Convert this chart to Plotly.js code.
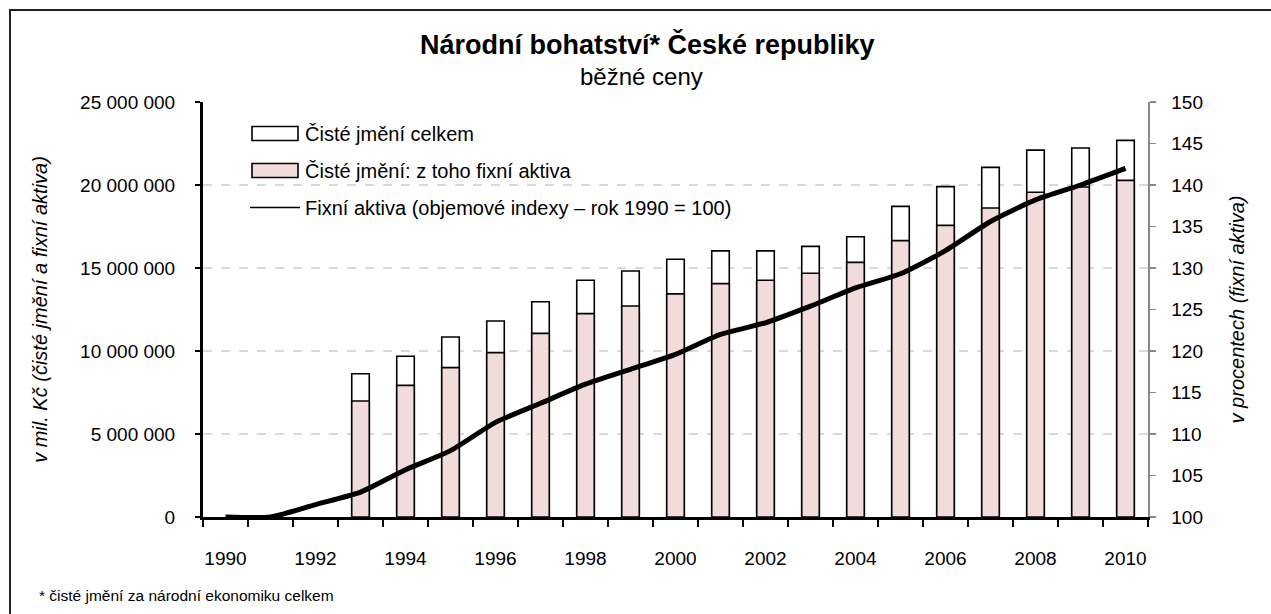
<!DOCTYPE html>
<html>
<head>
<meta charset="utf-8">
<script src="https://cdn.plot.ly/plotly-3.0.1.min.js"></script>
<style>html,body{margin:0;padding:0;background:#fff;}#chart{width:1271px;height:614px;}</style>
</head>
<body>
<div id="chart"></div>
<script>
// ---- data ----
const years = [1990,1991,1992,1993,1994,1995,1996,1997,1998,1999,2000,2001,2002,2003,2004,2005,2006,2007,2008,2009,2010];
const netWorthTotal = [null,null,null,8630000,9680000,10840000,11810000,12970000,14260000,14820000,15530000,16030000,16030000,16300000,16880000,18710000,19900000,21060000,22100000,22230000,22690000];
const netWorthFixed = [null,null,null,6990000,7930000,9000000,9900000,11060000,12250000,12710000,13440000,14060000,14260000,14680000,15340000,16650000,17570000,18610000,19560000,19880000,20280000];
const fixedIndex = [100,100,101.5,103.0,105.7,108.0,111.4,113.7,116.0,117.8,119.6,122.0,123.4,125.4,127.6,129.3,132.1,135.6,138.2,140.0,142.0];
const xTickVals = [1990,1992,1994,1996,1998,2000,2002,2004,2006,2008,2010];
const seriesNames = ['Čisté jmění celkem','Čisté jmění: z toho fixní aktiva','Fixní aktiva (objemové indexy – rok 1990 = 100)'];
const titleText = '<b>Národní bohatství* České republiky</b>';
const subtitleText = 'běžné ceny';
const leftTitle = 'v mil. Kč (čisté jmění a fixní aktiva)';
const rightTitle = 'v procentech (fixní aktiva)';
const footnote = '* čisté jmění za národní ekonomiku celkem';

// ---- layout geometry ----
const W = 1271, H = 614;
const L = 203, R = 1148, T = 102, B = 517;
const px = x => (x - L) / (R - L);
const py = y => (B - y) / (B - T);

const FONT = 'Liberation Sans, Arial, sans-serif';

const traces = [
  {type:'bar', x: years, y: netWorthTotal, name: seriesNames[0], legendgroup:'a',
   width: 0.39, marker:{color:'#ffffff', line:{color:'#000000', width:1.6}}, hoverinfo:'x+y'},
  {type:'bar', x: years, y: netWorthFixed, name: seriesNames[1], legendgroup:'b',
   width: 0.39, marker:{color:'#f2dcdb', line:{color:'#000000', width:1.6}}, hoverinfo:'x+y'},
  {type:'scatter', mode:'lines', x: years, y: fixedIndex, name: seriesNames[2], legendgroup:'c',
   yaxis:'y2', line:{color:'#000000', width:5, shape:'spline', smoothing:0.6}}
];

const layout = {
  width: W, height: H,
  margin: {l: L, r: W - R, t: T, b: H - B},
  paper_bgcolor: '#ffffff', plot_bgcolor: '#ffffff',
  font: {family: FONT, size: 19, color: '#000000'},
  separators: ', ',
  barmode: 'overlay',
  showlegend: true,
  legend: {x: px(245), y: py(114), xanchor: 'left', yanchor: 'top',
           bgcolor: 'rgba(0,0,0,0)', borderwidth: 0, tracegroupgap: 8,
           font: {family: FONT, size: 20, color:'#000'}, itemwidth: 50, traceorder: 'grouped'},
  xaxis: {type: 'linear', range: [1989.5, 2010.5], tickmode: 'array', tickvals: xTickVals,
          ticks: 'outside', ticklen: 0, tickcolor: '#000', ticklabelstandoff: 22,
          showline: true, linecolor: '#000000', linewidth: 3, showgrid: false, zeroline: false,
          minor: {tick0: 1989.5, dtick: 1, ticks: 'outside', ticklen: 7, tickwidth: 2, tickcolor: '#000', showgrid: false},
          tickfont: {size: 19}, fixedrange: true},
  yaxis: {range: [0, 25000000], tickmode: 'linear', tick0: 0, dtick: 5000000, tickformat: ',d',
          ticks: 'outside', ticklen: 5, tickwidth: 1.5, tickcolor: '#000', ticklabelstandoff: 16,
          showline: true, linecolor: '#000000', linewidth: 3,
          showgrid: true, gridcolor: '#d9d9d9', gridwidth: 1.5, griddash: 'dash', zeroline: false,
          title: {text: '<i>' + leftTitle + '</i>', font: {size: 20}, standoff: 28},
          tickfont: {size: 19}, fixedrange: true},
  yaxis2: {overlaying: 'y', side: 'right', range: [100, 150], tickmode: 'linear', tick0: 100, dtick: 5,
           ticks: 'outside', ticklen: 6, tickwidth: 1.5, tickcolor: '#888888', ticklabelstandoff: 12,
           showline: true, linecolor: '#888888', linewidth: 1.5, showgrid: false, zeroline: false,
           title: {text: '<i>' + rightTitle + '</i>', font: {size: 20}, standoff: 28},
           tickfont: {size: 19}, fixedrange: true},
  annotations: [
    {xref:'paper', yref:'paper', x: px(647), y: py(45), text: titleText, showarrow:false,
     xanchor:'center', yanchor:'middle', font:{size: 27, family: FONT}},
    {xref:'paper', yref:'paper', x: px(641), y: py(76), text: subtitleText, showarrow:false,
     xanchor:'center', yanchor:'middle', font:{size: 24, family: FONT}},
    {xref:'paper', yref:'paper', x: px(37), y: py(595), text: footnote, showarrow:false,
     xanchor:'left', yanchor:'middle', font:{size: 15.5, family: FONT}}
  ],
  shapes: [
    {type:'rect', xref:'paper', yref:'paper', x0: px(10), y0: py(640), x1: px(1300), y1: py(10),
     line:{color:'#222222', width:2}, fillcolor:'rgba(0,0,0,0)', layer:'below'}
  ]
};

Plotly.newPlot('chart', traces, layout, {displayModeBar: false, staticPlot: true}).then(function (gd) {
  // widen the legend keys to match the wide rectangular keys of the original
  const items = gd.querySelectorAll('.legend .traces');
  items.forEach(function (item) {
    item.querySelectorAll('.legendpoints path').forEach(function (p) {
      const bb = p.getBBox();
      const cx = bb.x + bb.width / 2, cy = bb.y + bb.height / 2;
      p.setAttribute('d', 'M' + (cx - 23) + ',' + (cy - 7) + 'h46v14h-46z');
    });
    item.querySelectorAll('.legendlines path').forEach(function (p) {
      p.style.strokeWidth = '1.6px';
    });
  });
});
</script>
</body>
</html>
